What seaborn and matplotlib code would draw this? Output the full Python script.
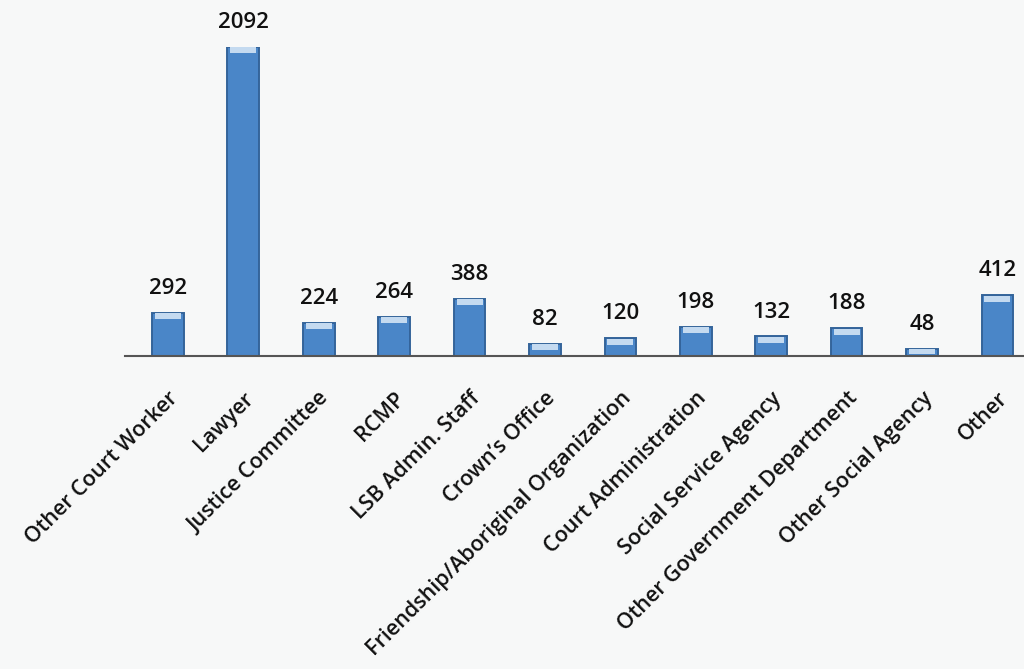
import matplotlib
matplotlib.use('Agg')
import matplotlib.pyplot as plt
import seaborn as sns
import pandas as pd

categories = ['Other Court Worker', 'Lawyer', 'Justice Committee', 'RCMP', 'LSB Admin. Staff',
              "Crown’s Office", 'Friendship/Aboriginal Organization', 'Court Administration',
              'Social Service Agency', 'Other Government Department', 'Other Social Agency', 'Other']
counts = [292, 2092, 224, 264, 388, 82, 120, 198, 132, 188, 48, 412]

df = pd.DataFrame({'Category': categories, 'Count': counts})

sns.set_style('white')
plt.rcParams['font.family'] = ['Open Sans', 'DejaVu Sans']

fig = plt.figure(figsize=(10.24, 6.69), dpi=100)
fig.patch.set_facecolor('#f7f8f8')
ax = fig.add_axes([0.122, 0.468, 0.894, 0.462])
ax.set_facecolor('#f7f8f8')

sns.barplot(data=df, x='Category', y='Count', color='#4a86c8', width=0.42,
            edgecolor='#34649a', linewidth=1.4, saturation=1, ax=ax)

# pale cap at the top of each bar (cylinder look)
for p in list(ax.patches):
    x, w, h = p.get_x(), p.get_width(), p.get_height()
    cap = min(40, h * 0.6)
    ax.bar(x + w / 2, cap, width=w * 0.82, bottom=h - cap - 4, color='#c4daf0',
           linewidth=0, zorder=3)

ax.bar_label(ax.containers[0], fmt='%d', padding=10, fontsize=16, fontweight='semibold',
             color='#111111')

ax.set_xlim(-0.57, 11.57)
ax.set_ylim(0, 2092)
ax.set_xlabel('')
ax.set_ylabel('')
ax.set_yticks([])
for s in ['top', 'right', 'left']:
    ax.spines[s].set_visible(False)
ax.spines['bottom'].set_color('#555555')
ax.spines['bottom'].set_linewidth(1.5)
ax.tick_params(axis='x', length=0, pad=23)
plt.setp(ax.get_xticklabels(), rotation=45, ha='right', rotation_mode='anchor',
         fontsize=15.5, fontweight='semibold', color='#111111')

fig.savefig('out.png', dpi=100, facecolor=fig.get_facecolor())
